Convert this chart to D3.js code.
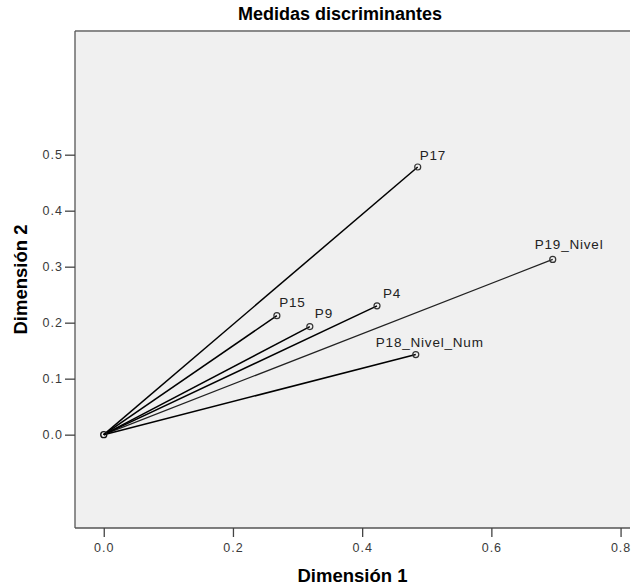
<!DOCTYPE html>
<html>
<head>
<meta charset="utf-8">
<script src="https://cdn.jsdelivr.net/npm/d3@7"></script>
<style>
  html, body { margin: 0; padding: 0; background: #ffffff; }
  svg { display: block; }
</style>
</head>
<body>
<script>
// ---- data ----
const variables = ["P17", "P19_Nivel", "P4", "P15", "P9", "P18_Nivel_Num"];
const dim1 = [0.486, 0.695, 0.423, 0.268, 0.319, 0.483];
const dim2 = [0.478, 0.313, 0.230, 0.2125, 0.193, 0.143];
const xTicks = [0.0, 0.2, 0.4, 0.6, 0.8];
const yTicks = [0.0, 0.1, 0.2, 0.3, 0.4, 0.5];
const chartTitle = "Medidas discriminantes";
const xTitle = "Dimensión 1";
const yTitle = "Dimensión 2";

// ---- layout ----
const W = 632, H = 586;
const frame = { left: 75, top: 31, right: 630, bottom: 528 };
// label offsets (dx, dy) relative to each point
const labelOffsets = {
  "P17": [2, -7.5],
  "P19_Nivel": [-18, -10],
  "P4": [6, -8],
  "P15": [2.3, -8.6],
  "P9": [5, -8.3],
  "P18_Nivel_Num": [-40, -7.6]
};
const lineWidths = { "P19_Nivel": 1.2 };

const x = d3.scaleLinear().domain([-0.0445, 0.8146]).range([frame.left, frame.right]);
const y = d3.scaleLinear().domain([-0.1667, 0.7209]).range([frame.bottom, frame.top]);

const svg = d3.select("body").append("svg").attr("width", W).attr("height", H);

// plot background
svg.append("rect")
  .attr("x", frame.left).attr("y", frame.top)
  .attr("width", frame.right - frame.left).attr("height", frame.bottom - frame.top)
  .attr("fill", "#f0f0f0").attr("stroke", "none");

// frame borders
svg.append("line").attr("x1", frame.left).attr("x2", frame.right).attr("y1", frame.top).attr("y2", frame.top)
  .attr("stroke", "#8a8a8a").attr("stroke-width", 2);
svg.append("line").attr("x1", frame.left).attr("x2", frame.left).attr("y1", frame.top).attr("y2", frame.bottom)
  .attr("stroke", "#555").attr("stroke-width", 1.3);
svg.append("line").attr("x1", frame.left).attr("x2", frame.right).attr("y1", frame.bottom).attr("y2", frame.bottom)
  .attr("stroke", "#555").attr("stroke-width", 1.3);

// axes
const xAxis = d3.axisBottom(x).tickValues(xTicks).tickFormat(d3.format(".1f")).tickSize(9).tickPadding(6);
const gx = svg.append("g").attr("transform", `translate(0,${frame.bottom})`).call(xAxis);
gx.select(".domain").remove();
gx.selectAll(".tick line").attr("stroke", "#444").attr("stroke-width", 1.3);
gx.selectAll(".tick text").attr("fill", "#3a3a3a").attr("font-family", "Liberation Sans, Arial, sans-serif")
  .attr("font-size", 12.5).attr("letter-spacing", 1);

const yAxis = d3.axisLeft(y).tickValues(yTicks).tickFormat(d3.format(".1f")).tickSize(10).tickPadding(2);
const gy = svg.append("g").attr("transform", `translate(${frame.left},0)`).call(yAxis);
gy.select(".domain").remove();
gy.selectAll(".tick line").attr("stroke", "#444").attr("stroke-width", 1.3);
gy.selectAll(".tick text").attr("fill", "#3a3a3a").attr("font-family", "Liberation Sans, Arial, sans-serif")
  .attr("font-size", 12.5).attr("letter-spacing", 1);

// vectors
const pts = variables.map((v, i) => ({ name: v, d1: dim1[i], d2: dim2[i] }));
svg.append("g").selectAll("line.vec").data(pts).join("line")
  .attr("class", "vec")
  .attr("x1", x(0)).attr("y1", y(0))
  .attr("x2", d => x(d.d1)).attr("y2", d => y(d.d2))
  .attr("stroke", d => d.name === "P19_Nivel" ? "#222" : "#000")
  .attr("stroke-width", d => lineWidths[d.name] || 1.5);

// origin marker
svg.append("circle").attr("cx", x(0)).attr("cy", y(0)).attr("r", 3)
  .attr("fill", "none").attr("stroke", "#111").attr("stroke-width", 1.4);

// point markers
svg.append("g").selectAll("circle.pt").data(pts).join("circle")
  .attr("class", "pt")
  .attr("cx", d => x(d.d1)).attr("cy", d => y(d.d2)).attr("r", 3)
  .attr("fill", "none").attr("stroke", "#333").attr("stroke-width", 1.2);

// labels
svg.append("g").selectAll("text.lbl").data(pts).join("text")
  .attr("class", "lbl")
  .attr("x", d => x(d.d1) + labelOffsets[d.name][0])
  .attr("y", d => y(d.d2) + labelOffsets[d.name][1])
  .attr("font-family", "Liberation Sans, Arial, sans-serif")
  .attr("font-size", 13.5).attr("letter-spacing", 0.8)
  .attr("fill", "#222")
  .text(d => d.name);

// titles
svg.append("text").attr("x", 340).attr("y", 20).attr("text-anchor", "middle")
  .attr("font-family", "Liberation Sans, Arial, sans-serif").attr("font-weight", "bold")
  .attr("font-size", 18).attr("fill", "#000").text(chartTitle);

svg.append("text").attr("x", (frame.left + frame.right) / 2).attr("y", 582).attr("text-anchor", "middle")
  .attr("font-family", "Liberation Sans, Arial, sans-serif").attr("font-weight", "bold")
  .attr("font-size", 18.5).attr("fill", "#000").text(xTitle);

svg.append("text")
  .attr("transform", `translate(27,${(frame.top + frame.bottom) / 2}) rotate(-90)`)
  .attr("text-anchor", "middle")
  .attr("font-family", "Liberation Sans, Arial, sans-serif").attr("font-weight", "bold")
  .attr("font-size", 18.5).attr("fill", "#000").text(yTitle);
</script>
</body>
</html>
